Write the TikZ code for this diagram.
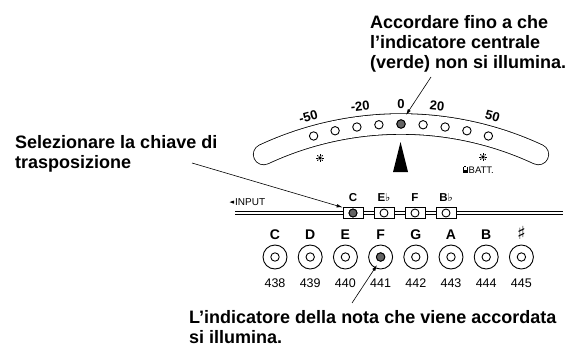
\documentclass[tikz,border=0pt]{standalone}
\usepackage{fontspec}
\setmainfont{Liberation Sans}
\newfontfamily\symfont{DejaVu Sans}
\usetikzlibrary{positioning,arrows.meta}
\definecolor{TunerLit}{RGB}{100,100,100}
\newcommand{\flatsym}{{\symfont\fontsize{11}{11}\selectfont ♭}}
\newcommand{\sharpsym}{{\symfont\fontsize{18}{18}\selectfont ♯}}

\begin{document}
\begin{tikzpicture}[x=1pt, y=1pt,
    callout/.style={font=\fontsize{18}{20}\selectfont\bfseries, align=left, inner sep=0pt, anchor=north west},
    pointer/.style={-{Latex[length=6pt,width=3.5pt]}, line width=0.6pt},
    led/.style={circle, draw, line width=0.9pt, minimum size=8.4pt, inner sep=0pt, fill=white},
    ring/.style={circle, draw, line width=0.9pt, minimum size=24pt, inner sep=0pt},
    keybox/.style={draw, fill=white, line width=0.7pt, minimum width=20pt, minimum height=10.5pt, inner sep=0pt},
    scalelabel/.style={font=\fontsize{13}{13}\selectfont\bfseries, inner sep=0pt},
    keyname/.style={font=\fontsize{11.5}{11.5}\selectfont\bfseries, inner sep=0pt},
    notename/.style={font=\fontsize{14}{14}\selectfont\bfseries, inner sep=0pt},
    notefreq/.style={font=\fontsize{12.5}{12.5}\selectfont, inner sep=0pt}]
    \useasboundingbox (0,0) rectangle (569,346);

    % Callout texts
    \node[callout] (tune) at (370,331) {Accordare fino a che\\l’indicatore centrale\\(verde) non si illumina.};
    \node[callout] (select) at (15,211) {Selezionare la chiave di\\trasposizione};
    \node[callout] (lit) at (189,36) {L’indicatore della nota che viene accordata\\si illumina.};

    % Meter band
    \begin{scope}[shift={(401,-103)}]
      \draw[line width=21.4pt, line cap=round] (115:325) arc[start angle=115, end angle=65, radius=325];
      \draw[white, line width=19.8pt, line cap=round] (115:325) arc[start angle=115, end angle=65, radius=325];
      \foreach \i in {-4,...,4}
        \node[led] (led\i) at ({90-3.9*\i}:325) {};
      \node[led, fill=TunerLit] at (led0) {};
      \foreach \val/\ang [count=\j] in {-50/15.6, -20/6.8, 0/0, 20/-6, 50/-15.4}
        \node[scalelabel, rotate=\ang] (mark\j) at ({90+\ang}:345) {\val};
    \end{scope}

    % Needle mark, sun marks and battery
    \fill (393,174) -- (408,174) -- (400.5,204) -- cycle;
    \foreach \sx/\sy in {320/188, 483/189} {
      \fill (\sx,\sy) circle (1.8);
      \foreach \a in {0,45,...,315}
        \draw[line width=0.8pt] (\sx,\sy) ++(\a:2.3) -- ++(\a:1.5);
    }
    \fill (463,173) rectangle (467.5,179.5);
    \fill (464.3,179.5) rectangle (466.2,180.5);
    \fill[white] (464,176.5) rectangle (466.5,178.7);
    \node[font=\fontsize{9.5}{9.5}\selectfont, anchor=west, inner sep=0pt] (batt) at (468.5,176) {BATT.};

    % Input rail and key selector
    \coordinate (railstart) at (235,133);
    \coordinate (railend) at (563,133);
    \draw[double, double distance=2.2pt, line width=0.6pt] (railstart) -- (railend);
    \node[font=\fontsize{10}{10}\selectfont, anchor=base west, inner sep=0pt] (input) at (235,140.5) {INPUT};
    \fill ([xshift=-1pt,yshift=1.6pt]input.west) -- ++(0,-3.2) -- ++(-4.5,1.6) -- cycle;
    \foreach \key/\x [count=\i] in {C/353, E\flatsym/384, F/415, B\flatsym/446} {
      \node[keybox] (key\i) at (\x,133) {};
      \node[led, minimum size=8pt] (keyled\i) at (key\i) {};
      \node[keyname, above=6pt of key\i, anchor=base] {\key};
    }
    \node[led, minimum size=8pt, fill=TunerLit] at (key1) {};

    % Note rings
    \foreach \name/\freq [count=\i from 0] in {C/438, D/439, E/440, F/441, G/442, A/443, B/444, \sharpsym/445} {
      \node[ring] (note\i) at ({275+35.2*\i},89) {};
      \node[led] (noteled\i) at (note\i) {};
      \node[notename, above=5pt of note\i, anchor=base] {\name};
      \node[notefreq, below=18.5pt of note\i, anchor=base] {\freq};
    }
    \node[led, fill=TunerLit] at (note3) {};

    % Callout pointers
    \coordinate (tunefoot) at (431,269);
    \coordinate (tunetip) at (406,231);
    \coordinate (selectfoot) at (192,183);
    \coordinate (litfoot) at (352,43);
    \coordinate (littip) at (377,81);
    \draw[pointer] (tunefoot) -- (tunetip);
    \draw[pointer] (selectfoot) -- (key1.north west);
    \draw[pointer] (litfoot) -- (littip);
\end{tikzpicture}
\end{document}
